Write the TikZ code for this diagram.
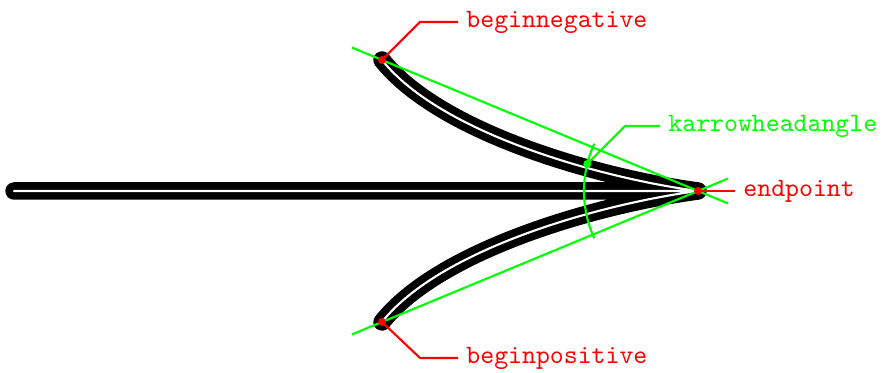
\documentclass[tikz,border=0pt]{standalone}
\usetikzlibrary{calc}
\tikzset{
  arrowline/.style={line width=2.9pt, double=white, double distance=0.8pt, line cap=round, line join=round},
  guide/.style={green, line width=0.8pt},
  leadred/.style={red, line width=0.8pt},
  leadgreen/.style={green, line width=0.8pt},
  lbl/.style={anchor=west, inner sep=3pt, font=\ttfamily},
}
\begin{document}
\begin{tikzpicture}[x=0.3774pt,y=0.3774pt]
\useasboundingbox (0,0) rectangle (886,373);
\coordinate (ep) at (698,182);
\coordinate (bneg) at (382,313);
\coordinate (bpos) at (382,51);
\coordinate (tail) at (14,182);
% arrow
\draw[arrowline] (tail) -- (ep)
  (bneg) .. controls (440,240) and (600,195) .. (ep)
  (bpos) .. controls (440,124) and (600,169) .. (ep);
% guide lines
\draw[guide] ($(bneg)!-0.095!(ep)$) -- ($(ep)!-0.095!(bneg)$);
\draw[guide] ($(bpos)!-0.095!(ep)$) -- ($(ep)!-0.095!(bpos)$);
\draw[guide] ($(ep)+(155.5:114)$) arc[start angle=155.5, end angle=204.5, radius=114];
% angle label
\coordinate (ang) at ($(ep)+(166.3:114)$);
\fill[green] (ang) circle[radius=1.5pt];
\coordinate (ka) at (625,247);
\coordinate (kb) at (660,247);
\draw[leadgreen] (ang) -- (ka) -- (kb);
\node[lbl, text=green] (klabel) at (kb) {karrowheadangle};
% red labels
\coordinate (na) at (420,351);
\coordinate (nb) at (458,351);
\draw[leadred] (bneg) -- (na) -- (nb);
\node[lbl, text=red] (nlabel) at (nb) {beginnegative};
\coordinate (pa) at (420,15);
\coordinate (pb) at (458,15);
\draw[leadred] (bpos) -- (pa) -- (pb);
\node[lbl, text=red] (plabel) at (pb) {beginpositive};
\coordinate (eb) at (735,182);
\draw[leadred] (ep) -- (eb);
\node[lbl, text=red] (elabel) at (eb) {endpoint};
\fill[red] (bneg) circle[radius=1.5pt];
\fill[red] (bpos) circle[radius=1.5pt];
\fill[red] (ep) circle[radius=1.5pt];
\end{tikzpicture}
\end{document}
